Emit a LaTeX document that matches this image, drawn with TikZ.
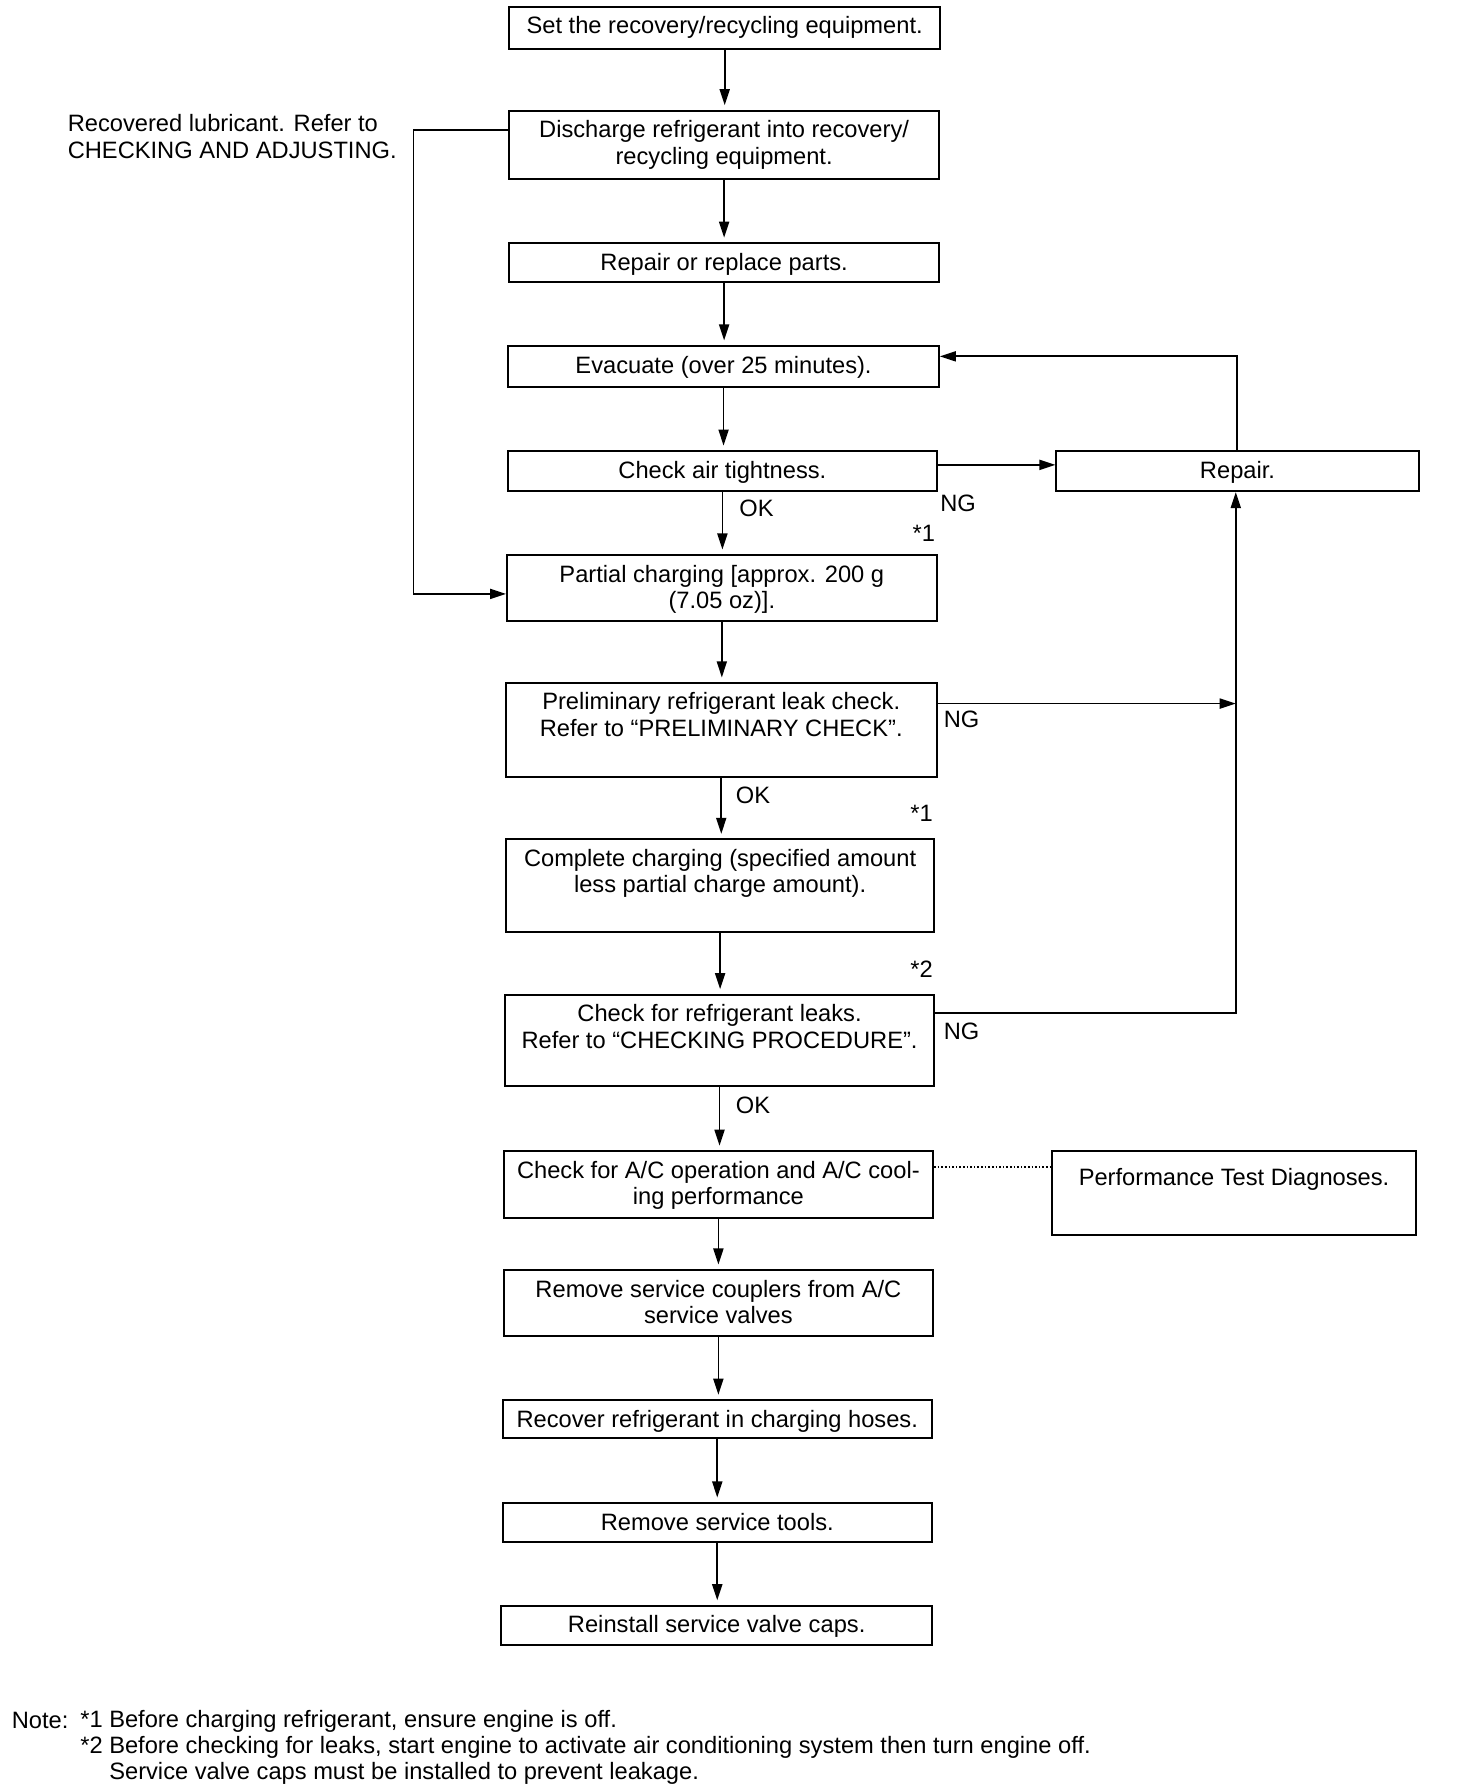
\documentclass[tikz,border=0pt]{standalone}
\usepackage{fontspec}
\setmainfont{Liberation Sans}
\usetikzlibrary{arrows.meta}
\newlength\U \setlength\U{0.02cm}
% #1 top gap, #2 name, #3 cx, #4 cy, #5 width, #6 height, #7 text
\newcommand\flowbox[7][7.5]{\node[box] (#2) at (#3,#4) {\parbox[c][#6\U][t]{#5\U}{\centering\vspace*{#1\U}\strut #7}};}
\begin{document}
\begin{tikzpicture}[x=0.02cm, y=-0.02cm,
  font=\fontsize{11.8}{13.1}\selectfont,
  box/.style={draw, line width=1pt, inner sep=0pt},
  arr/.style={-{Triangle[length=8pt,width=5pt]}, line width=0.9pt},
  varr/.style={arr, shorten >=0.08cm},
  lbl/.style={inner sep=0pt}]
\useasboundingbox (0,0) rectangle (1275,1569);

\flowbox{n1}{634.5}{24.5}{377}{37}{Set the recovery/recycling equipment.}
\flowbox{n2}{634}{127}{376}{60}{Discharge refrigerant into recovery/\\ recycling equipment.}
\flowbox{n3}{634}{230}{376}{34}{Repair or replace parts.}
\flowbox{n4}{633.5}{321}{377}{36}{Evacuate (over 25 minutes).}
\flowbox{n5}{632.5}{412.5}{375}{35}{Check air tightness.}
\flowbox{n6}{632}{515}{376}{58}{Partial charging [approx. 200 g\\ (7.05 oz)].}
\flowbox{n7}{631.5}{639}{377}{82}{Preliminary refrigerant leak check.\\ Refer to “PRELIMINARY CHECK”.}
\flowbox{n8}{630.5}{775.5}{375}{81}{Complete charging (specified amount\\ less partial charge amount).}
\flowbox{n9}{630}{911}{376}{80}{Check for refrigerant leaks.\\ Refer to “CHECKING PROCEDURE”.}
\flowbox{n10}{629}{1037}{376}{58}{Check for A/C operation and A/C cool-\\ ing performance}
\flowbox{n11}{629}{1141}{376}{58}{Remove service couplers from A/C\\ service valves}
\flowbox{n12}{628}{1242.5}{376}{33}{Recover refrigerant in charging hoses.}
\flowbox{n13}{628}{1333}{376}{34}{Remove service tools.}
\flowbox{n14}{627.5}{1423}{377}{34}{Reinstall service valve caps.}
\flowbox{rep}{1083.5}{412.5}{317}{35}{Repair.}
\flowbox[14]{perf}{1080.5}{1044.5}{319}{73}{Performance Test Diagnoses.}

% main column arrows
\foreach \a/\b in {n1/n2,n2/n3,n3/n4,n4/n5,n5/n6,n6/n7,n7/n8,n8/n9,n9/n10,n10/n11,n11/n12,n12/n13,n13/n14}
  \draw[varr] (\a.south) -- (\a.south |- \b.north);

% recovered lubricant loop
\node[lbl, anchor=west, align=left] (lub) at (59,119.5) {Recovered lubricant. Refer to\\CHECKING AND ADJUSTING.};
\coordinate (lt) at (362,114);
\coordinate (lb) at (362,520);
\draw[arr] (n2.west |- lt) -- (lt) -- (lb) -- (n6.west |- lb);

% check air tightness -> repair -> evacuate
\coordinate (ca) at (0,407);
\draw[arr] (n5.east |- ca) -- (rep.west |- ca);
\coordinate (re) at (1083,312);
\draw[arr] (rep.north -| re) -- (re) -- (n4.east |- re);

% NG loops into repair
\coordinate (rx) at (1082,887);
\draw[arr] (n9.east |- rx) -- (rx) -- (rep.south -| rx);
\coordinate (pj) at (1082,616);
\draw[arr] (n7.east |- pj) -- (pj);

% dotted link
\coordinate (dt) at (0,1022);
\draw[line width=0.8pt, densely dotted] (n10.east |- dt) -- (perf.west |- dt);

% labels
\node[lbl, anchor=west] (ok1) at (647,445) {OK};
\node[lbl, anchor=west] (ok2) at (644,696) {OK};
\node[lbl, anchor=west] (ok3) at (644,968) {OK};
\node[lbl, anchor=west] (ng1) at (823,441) {NG};
\node[lbl, anchor=west] (ng2) at (826,630) {NG};
\node[lbl, anchor=west] (ng3) at (826,903) {NG};
\node[lbl, anchor=east] (s1) at (819,467) {*1};
\node[lbl, anchor=east] (s2) at (817,712) {*1};
\node[lbl, anchor=east] (s3) at (817,849) {*2};

% notes
\node[lbl, anchor=west] (note) at (10,1506) {Note:};
\node[lbl, anchor=west, align=left] (notes) at (70,1530) {*1 Before charging refrigerant, ensure engine is off.\\*2 Before checking for leaks, start engine to activate air conditioning system then turn engine off.\\\phantom{*2 }Service valve caps must be installed to prevent leakage.};
\end{tikzpicture}
\end{document}
